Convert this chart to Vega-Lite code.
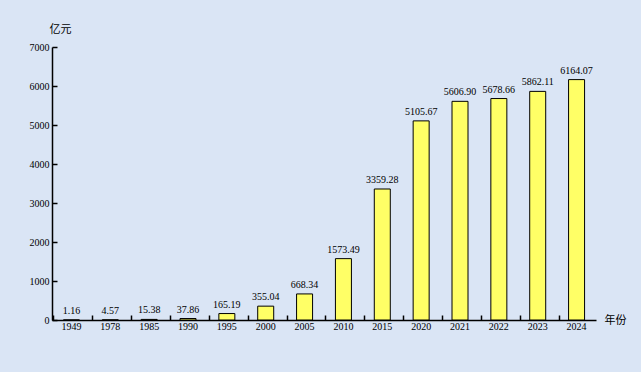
{
  "$schema": "https://vega.github.io/schema/vega-lite/v6.json",
  "width": 544,
  "height": 273,
  "autosize": {"type": "none"},
  "padding": {"left": 52, "top": 47, "right": 45, "bottom": 52},
  "background": "#DAE5F5",
  "config": {
    "view": {"stroke": null},
    "font": "Liberation Serif",
    "axis": {"grid": false, "domainColor": "#000000", "tickColor": "#000000", "labelColor": "#000000", "labelFont": "Liberation Serif", "labelFontSize": 10, "domainWidth": 1.5, "tickWidth": 1.5}
  },
  "data": {
    "values": [
      {"year": "1949", "value": 1.16},
      {"year": "1978", "value": 4.57},
      {"year": "1985", "value": 15.38},
      {"year": "1990", "value": 37.86},
      {"year": "1995", "value": 165.19},
      {"year": "2000", "value": 355.04},
      {"year": "2005", "value": 668.34},
      {"year": "2010", "value": 1573.49},
      {"year": "2015", "value": 3359.28},
      {"year": "2020", "value": 5105.67},
      {"year": "2021", "value": 5606.90},
      {"year": "2022", "value": 5678.66},
      {"year": "2023", "value": 5862.11},
      {"year": "2024", "value": 6164.07}
    ]
  },
  "encoding": {
    "x": {
      "field": "year", "type": "nominal", "sort": null,
      "axis": {
        "title": "年份", "titleFont": "Noto Sans CJK SC", "titleFontSize": 11, "titleFontWeight": "normal",
        "titleX": 563, "titleY": 0, "titleAlign": "center", "titleBaseline": "middle", "titleColor": "#000000",
        "labelAngle": 0, "labelPadding": 6, "tickSize": -5, "bandPosition": 0, "labelBaseline": "top"
      }
    },
    "y": {
      "field": "value", "type": "quantitative",
      "scale": {"domain": [0, 7000], "nice": false},
      "axis": {
        "title": "亿元", "titleFont": "Noto Sans CJK SC", "titleFontSize": 11, "titleFontWeight": "normal",
        "titleAngle": 0, "titleX": 8, "titleY": -18, "titleAlign": "center", "titleBaseline": "middle", "titleColor": "#000000",
        "values": [0, 1000, 2000, 3000, 4000, 5000, 6000, 7000],
        "tickSize": -5, "labelPadding": 8, "format": "d"
      }
    }
  },
  "layer": [
    {"mark": {"type": "bar", "size": 16, "fill": "#FFFF66", "stroke": "#000000", "strokeWidth": 1}},
    {"mark": {"type": "text", "dy": -9, "fontSize": 10, "font": "Liberation Serif", "color": "#000000"},
     "encoding": {"text": {"field": "value", "type": "quantitative", "format": ".2f"}}}
  ]
}
